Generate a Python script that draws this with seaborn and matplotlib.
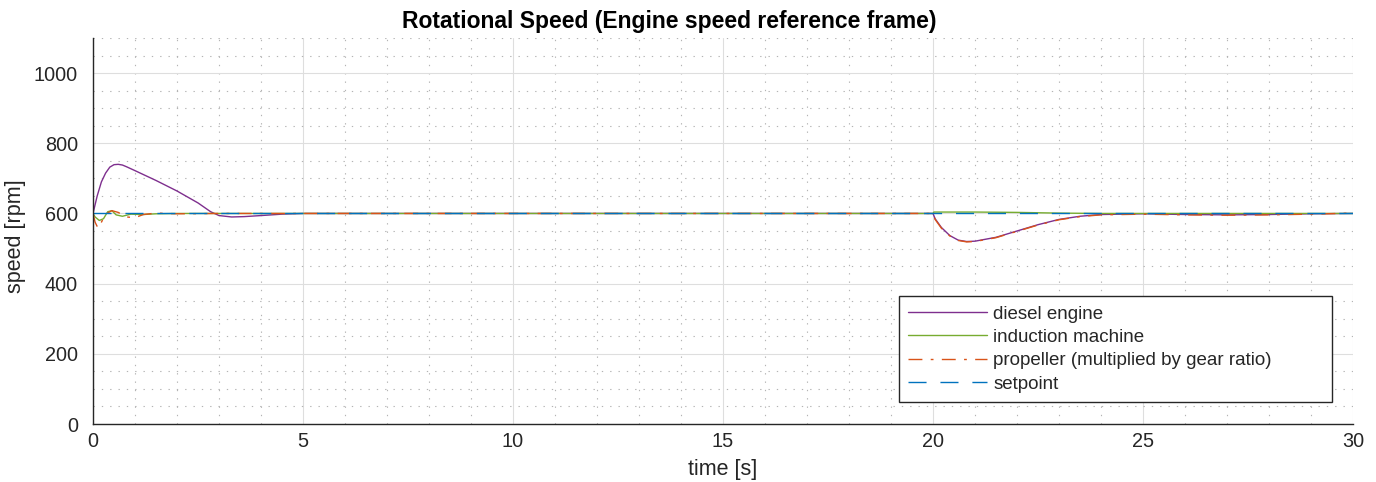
import numpy as np
import pandas as pd
import matplotlib
matplotlib.use("Agg")
import matplotlib.pyplot as plt
import seaborn as sns
from matplotlib.ticker import MultipleLocator

# ---- data ----
diesel_t = [0, 0.1, 0.2, 0.3, 0.4, 0.5, 0.6, 0.7, 0.8, 1.0, 1.5, 2.0, 2.5, 2.8, 3.0, 3.3, 3.6, 4.0, 4.5, 5.0,
            20.0, 20.05, 20.2, 20.4, 20.6, 20.8, 21.0, 21.5, 22.0, 22.5, 23.0, 23.5, 24.0, 25, 26, 27, 28, 29, 30]
diesel_v = [600, 650, 690, 715, 732, 739, 740, 738, 733, 722, 694, 664, 630, 605, 594, 590, 591, 594, 598, 600,
            600, 585, 560, 537, 524, 520, 521, 532, 550, 568, 583, 592, 597, 599, 597, 596, 597, 599, 600]

induction_t = [0, 0.05, 0.15, 0.25, 0.35, 0.45, 0.55, 0.7, 0.9, 1.2, 1.5, 2.0, 20.0, 20.02, 21, 22, 23, 24, 30]
induction_v = [600, 590, 580, 585, 605, 608, 596, 592, 598, 597, 599, 600, 600, 604, 604, 603, 601, 600, 600]

propeller_t = [0, 0.05, 0.12, 0.2, 0.3, 0.45, 0.6, 0.8, 1.0, 1.2, 1.5, 2.0, 3.0, 20.0, 20.05, 20.2, 20.4, 20.6,
               20.8, 21.0, 21.5, 22.0, 22.5, 23.0, 23.5, 24.0, 25, 26, 27, 28, 29, 30]
propeller_v = [600, 575, 558, 575, 598, 608, 603, 590, 588, 597, 601, 599, 600, 600, 583, 558, 536, 523,
               519, 520, 531, 549, 567, 582, 591, 596, 598, 596, 595, 596, 598, 601]

setpoint_t = [0, 30]
setpoint_v = [600, 600]

labels = ["diesel engine", "induction machine", "propeller (multiplied by gear ratio)", "setpoint"]
colors = ["#7E2F8E", "#77AC30", "#D95319", "#0072BD"]

sns.set_style("white")
plt.rcParams['font.family'] = ['Liberation Sans', 'DejaVu Sans']

W, H = 1376, 482
fig = plt.figure(figsize=(W / 100, H / 100), dpi=100)
ax = fig.add_axes([93 / W, 1 - 424 / H, 1260 / W, 386 / H])

sns.lineplot(x=diesel_t, y=diesel_v, ax=ax, color=colors[0], lw=1.0, label=labels[0], sort=False)
sns.lineplot(x=induction_t, y=induction_v, ax=ax, color=colors[1], lw=1.0, label=labels[1], sort=False)
sns.lineplot(x=propeller_t, y=propeller_v, ax=ax, color=colors[2], lw=1.0, label=labels[2], sort=False,
             linestyle=(0, (10, 6, 2, 6)))
sns.lineplot(x=setpoint_t, y=setpoint_v, ax=ax, color=colors[3], lw=1.0, label=labels[3], sort=False,
             linestyle=(0, (13, 10)))

ax.set_xlim(0, 30)
ax.set_ylim(0, 1100)
ax.xaxis.set_major_locator(MultipleLocator(5))
ax.xaxis.set_minor_locator(MultipleLocator(1))
ax.yaxis.set_major_locator(MultipleLocator(200))
ax.yaxis.set_minor_locator(MultipleLocator(50))

ax.grid(which='major', color='#dedede', lw=0.8, ls='-')
ax.grid(which='minor', color='#b4b4b4', lw=0.8, ls=(0, (1.2, 6.3)))
ax.set_axisbelow(True)

for s in ['top', 'right']:
    ax.spines[s].set_visible(False)
for s in ['left', 'bottom']:
    ax.spines[s].set_color('#262626')
    ax.spines[s].set_linewidth(1.0)

ax.tick_params(which='major', direction='in', length=9, width=1.0, color='#262626',
               labelsize=14.3, labelcolor='#262626')
ax.tick_params(axis='x', which='major', pad=6.0)
ax.tick_params(axis='y', which='major', pad=10.8)
ax.tick_params(which='minor', length=0)

ax.set_xlabel("time [s]", fontsize=15.5, color='#262626')
ax.set_ylabel("speed [rpm]", fontsize=15.5, color='#262626')
ax.xaxis.label.set_va('center')
ax.yaxis.label.set_va('center')
ax.xaxis.set_label_coords(0.5, (424 - 469) / 386)
ax.yaxis.set_label_coords((15 - 93) / 1260, (424 - 236) / 386)

ax.set_title("Rotational Speed (Engine speed reference frame)", fontsize=16.5, fontweight='bold',
             color='black', pad=7, x=(669 - 93) / 1260)

leg = ax.legend(loc='lower left',
                bbox_to_anchor=((899 - 93) / 1260, (424 - 402) / 386, (1332 - 899) / 1260, (402 - 295) / 386),
                mode='expand', fontsize=13.5,
                frameon=True, fancybox=False, edgecolor='#262626', framealpha=1,
                handlelength=4.2, borderpad=0.5, labelspacing=0.33, handletextpad=0.32,
                borderaxespad=0)
leg.get_frame().set_linewidth(1.0)

fig.savefig("out.png", dpi=100)
